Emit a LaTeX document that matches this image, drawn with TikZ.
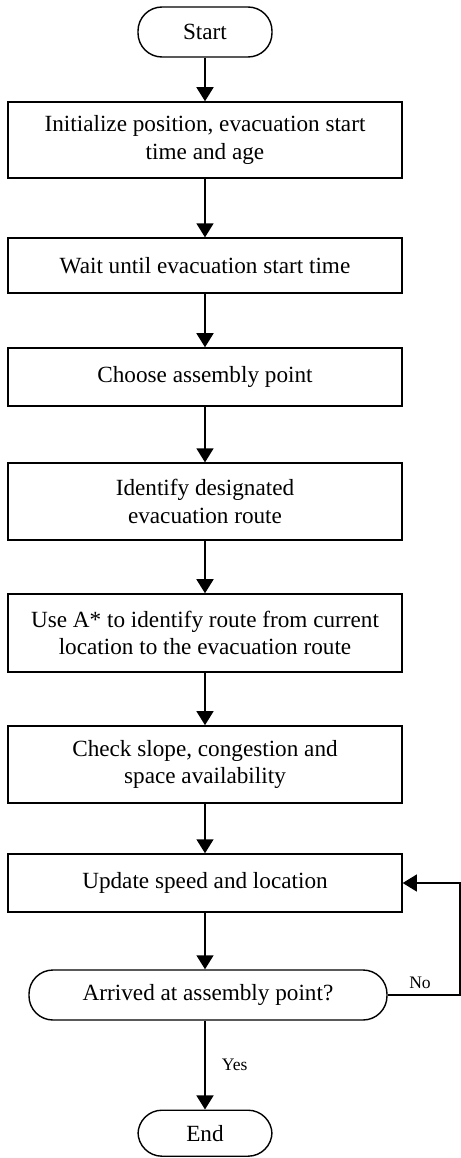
\documentclass[tikz,border=0pt]{standalone}
\usepackage{fontspec}
\setmainfont{Liberation Serif}
\usetikzlibrary{arrows.meta, positioning}

\begin{document}
\begin{tikzpicture}[
  term/.style={draw, line width=1pt, rounded corners=0.6cm, minimum width=3.35cm, minimum height=1.25cm, inner sep=0pt, font=\fontsize{16.5}{19.5}\selectfont},
  pbox/.style={draw, line width=1pt, minimum width=9.85cm, align=center, inner sep=0pt, font=\fontsize{16.5}{19.5}\selectfont},
  flow/.style={line width=1.4pt, -{Triangle[length=10pt,width=12pt]}},
  lbl/.style={font=\fontsize{12.5}{14}\selectfont}
]
  \useasboundingbox (0,0) rectangle (11.525,-28.95);

  \node[term] (start) at (5.125, -0.8) {Start};
  \node[pbox, minimum height=1.9cm] (init) at (5.125, -3.5) {Initialize position, evacuation start\\time and age};
  \node[pbox, minimum height=1.375cm] (wait) at (5.125, -6.64) {Wait until evacuation start time};
  \node[pbox, minimum height=1.45cm] (choose) at (5.125, -9.425) {Choose assembly point};
  \node[pbox, minimum height=1.925cm] (ident) at (5.125, -12.54) {Identify designated\\evacuation route};
  \node[pbox, minimum height=1.95cm] (astar) at (5.125, -15.825) {Use A* to identify route from current\\location to the evacuation route};
  \node[pbox, minimum height=1.925cm] (check) at (5.125, -19.11) {Check slope, congestion and\\space availability};
  \node[pbox, minimum height=1.45cm] (update) at (5.125, -22.075) {Update speed and location};
  \node[term, minimum width=8.95cm] (arrived) at (5.2, -24.875) {Arrived at assembly point?};
  \node[term, minimum height=1.15cm] (end) at (5.125, -28.33) {End};

  % main sequence
  \draw[flow] (start) -- (init);
  \draw[flow] (init) -- (wait);
  \draw[flow] (wait) -- (choose);
  \draw[flow] (choose) -- (ident);
  \draw[flow] (ident) -- (astar);
  \draw[flow] (astar) -- (check);
  \draw[flow] (check) -- (update);
  \draw[flow] (update.south) -- (update.south |- arrived.north);
  \draw[flow] (arrived.south -| update.south) -- (end) node[lbl, midway, right=8pt] {Yes};

  % loop back while not arrived
  \coordinate (loop) at (11.5, -24.875);
  \draw[flow, line width=1pt] (arrived.east) -- (loop) |- (update.east);
  \node[lbl] (no) at (10.5, -24.575) {No};
\end{tikzpicture}
\end{document}
